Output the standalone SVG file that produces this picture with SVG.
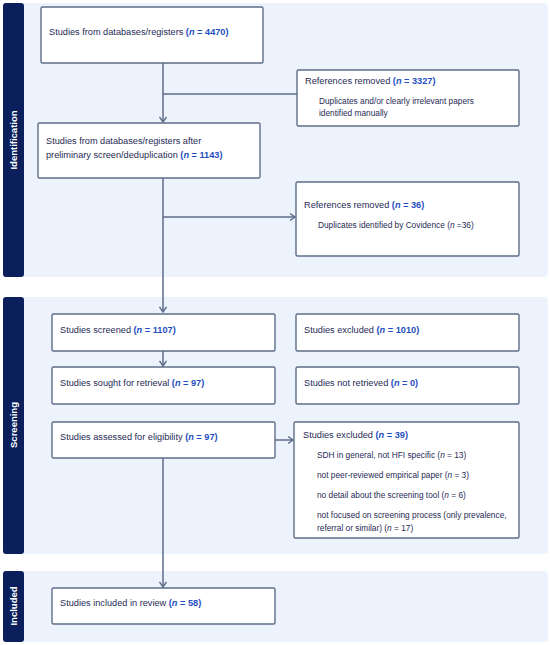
<svg xmlns="http://www.w3.org/2000/svg" width="550" height="645" viewBox="0 0 550 645">
<style>
.panel{fill:#edf3fc}
.bar{fill:#0a1f5c}
.box{fill:#ffffff;stroke:#5d6d88;stroke-width:1.4}
.lbl{font-family:"Liberation Sans",Arial,sans-serif;font-size:9.2px;fill:#1f2a55}
.sub{font-family:"Liberation Sans",Arial,sans-serif;font-size:8.3px;fill:#1f2a55}
.n{font-weight:bold;fill:#1f4fbf}
.i{font-style:italic}
.side{font-family:"Liberation Sans",Arial,sans-serif;font-size:9.5px;font-weight:bold;fill:#ffffff}
.con{stroke:#5d6d88;stroke-width:1.5;fill:none}
</style>
<defs>
<marker id="ah" markerWidth="8" markerHeight="8" refX="6" refY="4" orient="auto" markerUnits="userSpaceOnUse">
<path d="M1,0.5 L6,4 L1,7.5" fill="none" stroke="#5d6d88" stroke-width="1.4"/>
</marker>
</defs>
<rect width="550" height="645" fill="#ffffff"/>
<g id="phase-identification">
<rect class="panel" x="3" y="3" width="545" height="274" rx="4"/>
<rect class="bar" x="3" y="3" width="21" height="274" rx="3"/>
<text class="side" transform="translate(17,140) rotate(-90)" text-anchor="middle">Identification</text>
</g>
<g id="phase-screening">
<rect class="panel" x="3" y="297" width="545" height="257" rx="4"/>
<rect class="bar" x="3" y="297" width="21" height="257" rx="3"/>
<text class="side" transform="translate(17,425) rotate(-90)" text-anchor="middle">Screening</text>
</g>
<g id="phase-included">
<rect class="panel" x="3" y="571" width="545" height="71" rx="4"/>
<rect class="bar" x="3" y="571" width="21" height="71" rx="3"/>
<text class="side" transform="translate(17,606) rotate(-90)" text-anchor="middle">Included</text>
</g>
<g id="connectors">
<line class="con" x1="163" y1="63" x2="163" y2="122" marker-end="url(#ah)"/>
<line class="con" x1="163" y1="94" x2="297" y2="94"/>
<line class="con" x1="163" y1="178" x2="163" y2="312" marker-end="url(#ah)"/>
<line class="con" x1="163" y1="217" x2="295" y2="217" marker-end="url(#ah)"/>
<line class="con" x1="163" y1="351" x2="163" y2="366" marker-end="url(#ah)"/>
<line class="con" x1="275" y1="440" x2="293" y2="440" marker-end="url(#ah)"/>
<line class="con" x1="163" y1="458" x2="163" y2="587" marker-end="url(#ah)"/>
</g>
<g id="n1">
<rect class="box" x="41" y="7" width="222" height="56" rx="1.5"/>
<text class="lbl" x="49" y="35">Studies from databases/registers <tspan class="n">(<tspan class="i">n</tspan> = 4470)</tspan></text>
</g>
<g id="n2">
<rect class="box" x="297" y="70" width="222" height="56" rx="1.5"/>
<text class="lbl" x="305" y="84">References removed <tspan class="n">(<tspan class="i">n</tspan> = 3327)</tspan></text>
<text class="sub" x="319" y="104">Duplicates and/or clearly irrelevant papers</text>
<text class="sub" x="319" y="116">identified manually</text>
</g>
<g id="n3">
<rect class="box" x="38" y="123" width="222" height="55" rx="1.5"/>
<text class="lbl" x="46" y="144">Studies from databases/registers after</text>
<text class="lbl" x="46" y="158">preliminary screen/deduplication <tspan class="n">(<tspan class="i">n</tspan> = 1143)</tspan></text>
</g>
<g id="n4">
<rect class="box" x="296" y="182" width="223" height="74" rx="1.5"/>
<text class="lbl" x="304" y="208">References removed <tspan class="n">(<tspan class="i">n</tspan> = 36)</tspan></text>
<text class="sub" x="318" y="228">Duplicates identified by Covidence (<tspan class="i">n</tspan> =36)</text>
</g>
<g id="n5">
<rect class="box" x="52" y="314" width="223" height="37" rx="1.5"/>
<text class="lbl" x="60" y="333">Studies screened <tspan class="n">(<tspan class="i">n</tspan> = 1107)</tspan></text>
</g>
<g id="n6">
<rect class="box" x="296" y="314" width="223" height="37" rx="1.5"/>
<text class="lbl" x="304" y="333">Studies excluded <tspan class="n">(<tspan class="i">n</tspan> = 1010)</tspan></text>
</g>
<g id="n7">
<rect class="box" x="52" y="367" width="223" height="37" rx="1.5"/>
<text class="lbl" x="60" y="386">Studies sought for retrieval <tspan class="n">(<tspan class="i">n</tspan> = 97)</tspan></text>
</g>
<g id="n8">
<rect class="box" x="296" y="367" width="223" height="37" rx="1.5"/>
<text class="lbl" x="304" y="386">Studies not retrieved <tspan class="n">(<tspan class="i">n</tspan> = 0)</tspan></text>
</g>
<g id="n9">
<rect class="box" x="52" y="422" width="223" height="36" rx="1.5"/>
<text class="lbl" x="60" y="440">Studies assessed for eligibility <tspan class="n">(<tspan class="i">n</tspan> = 97)</tspan></text>
</g>
<g id="n10">
<rect class="box" x="294" y="422" width="225" height="116" rx="1.5"/>
<text class="lbl" x="303" y="438">Studies excluded <tspan class="n">(<tspan class="i">n</tspan> = 39)</tspan></text>
<text class="sub" x="317" y="458">SDH in general, not HFI specific (<tspan class="i">n</tspan> = 13)</text>
<text class="sub" x="317" y="478">not peer-reviewed empirical paper (<tspan class="i">n</tspan> = 3)</text>
<text class="sub" x="317" y="498">no detail about the screening tool (<tspan class="i">n</tspan> = 6)</text>
<text class="sub" x="317" y="518">not focused on screening process (only prevalence,</text>
<text class="sub" x="317" y="531">referral or similar) (<tspan class="i">n</tspan> = 17)</text>
</g>
<g id="n11">
<rect class="box" x="52" y="588" width="223" height="36" rx="1.5"/>
<text class="lbl" x="60" y="606">Studies included in review <tspan class="n">(<tspan class="i">n</tspan> = 58)</tspan></text>
</g>
</svg>
